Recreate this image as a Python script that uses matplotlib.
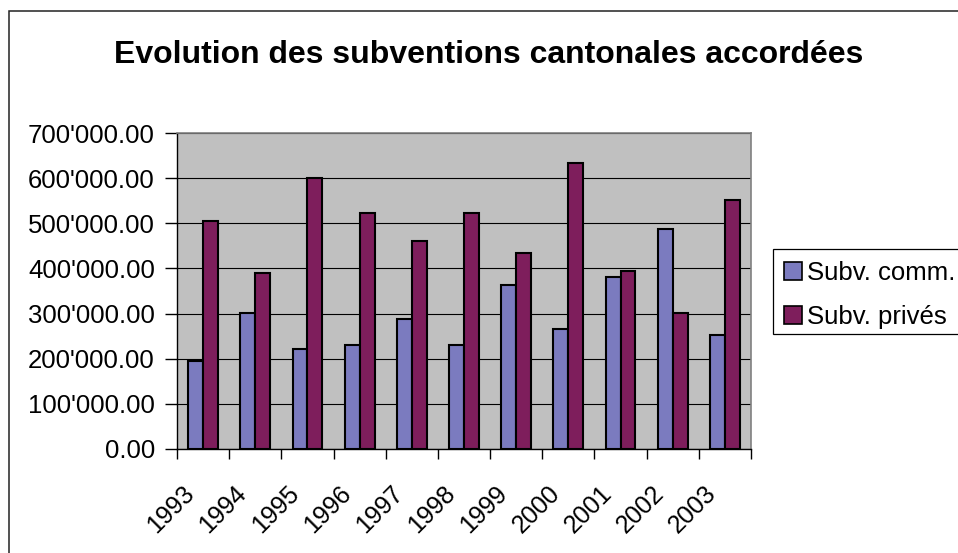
import matplotlib
matplotlib.use("Agg")
import matplotlib.pyplot as plt
import matplotlib.transforms as mtransforms
from matplotlib.patches import Rectangle, Patch
import numpy as np

plt.rcParams['font.family'] = ['Liberation Sans', 'DejaVu Sans']

# data
years = ['1993', '1994', '1995', '1996', '1997', '1998', '1999', '2000', '2001', '2002', '2003']
subv_comm = [195000, 301000, 222000, 230000, 289000, 230000, 364000, 266000, 381000, 488000, 252000]
subv_prives = [506000, 390000, 600000, 523000, 461000, 523000, 435000, 634000, 394000, 302000, 551000]
yticks = [0, 100000, 200000, 300000, 400000, 500000, 600000, 700000]

col_comm = '#7B7BBF'
col_priv = '#7E1E5C'

W, H = 958, 553
fig = plt.figure(figsize=(W / 100, H / 100), dpi=100)
fig.patch.set_facecolor('white')

# outer frame (only left and top visible)
fig.patches.append(Rectangle((9 / W, -0.2), 1.5, 1 - 11 / H + 0.2, transform=fig.transFigure,
                             fill=False, edgecolor='#222222', linewidth=1.1))

ax = fig.add_axes([177 / W, 1 - 449 / H, (751 - 177) / W, (449 - 133) / H])
ax.set_facecolor('#C0C0C0')

x = np.arange(len(years))
bw = 1 / 3.5
ax.bar(x - bw / 2, subv_comm, bw, color=col_comm, edgecolor='black', linewidth=1.5, zorder=3,
       label='Subv. comm.')
ax.bar(x + bw / 2, subv_prives, bw, color=col_priv, edgecolor='black', linewidth=1.5, zorder=3,
       label='Subv. privés')

ax.set_xlim(-0.5, len(years) - 0.5)
ax.set_ylim(0, 700000)
ax.set_yticks(yticks)
ax.set_yticklabels([f"{v:,.2f}".replace(',', "'") for v in yticks], fontsize=18.5)
ax.grid(axis='y', color='black', linewidth=0.8, zorder=1)
ax.set_axisbelow(True)

# category ticks at the boundaries, labels placed separately
ax.set_xticks(np.arange(-0.5, len(years), 1))
ax.set_xticklabels([])
ax.tick_params(axis='x', direction='out', length=7, width=1, color='black')
ax.tick_params(axis='y', direction='out', length=9, width=1, color='black', pad=7)

off = mtransforms.ScaledTranslation(-21 / 100, -32 / 100, fig.dpi_scale_trans)
tr = mtransforms.blended_transform_factory(ax.transData, ax.transAxes) + off
for i, yr in enumerate(years):
    ax.text(i, 0, yr, transform=tr, rotation=45, ha='right', va='top',
            rotation_mode='anchor', fontsize=18)

for s in ['left', 'bottom']:
    ax.spines[s].set_color('black')
    ax.spines[s].set_linewidth(1)
for s in ['top', 'right']:
    ax.spines[s].set_color('#808080')
    ax.spines[s].set_linewidth(1.2)

fig.text(489 / W, 1 - 63 / H, 'Evolution des subventions cantonales accordées',
         ha='center', va='baseline', fontsize=23, fontweight='bold')

handles = [Patch(facecolor=col_comm, edgecolor='black', linewidth=1.2, label='Subv. comm.'),
           Patch(facecolor=col_priv, edgecolor='black', linewidth=1.2, label='Subv. privés')]
leg = fig.legend(handles=handles, loc='upper left', bbox_to_anchor=(772.5 / W, 1 - 249 / H),
                 bbox_transform=fig.transFigure, borderaxespad=0, fontsize=18.5,
                 handlelength=0.7, handleheight=0.7, handletextpad=0.2,
                 labelspacing=0.8, borderpad=0.45, fancybox=False)
leg.get_frame().set_visible(False)
# legend box runs past the right edge of the picture, as in the reference
fig.patches.append(Rectangle((772.5 / W, 1 - 334 / H), 250 / W, (334 - 249) / H,
                             transform=fig.transFigure, facecolor='white',
                             edgecolor='black', linewidth=0.9, zorder=0))

fig.savefig('out.png', dpi=100)
